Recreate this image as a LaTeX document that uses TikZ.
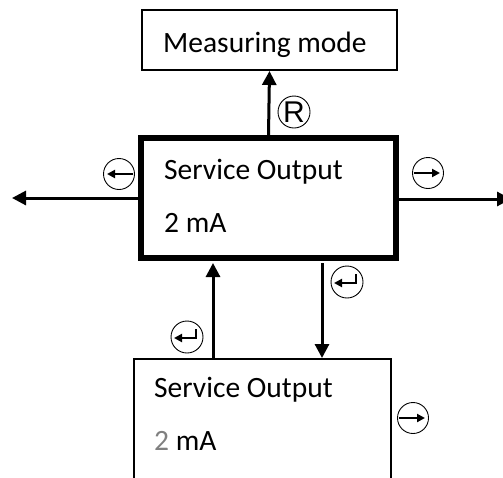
\documentclass[tikz,border=0pt]{standalone}
\usepackage{fontspec}
\setmainfont{Carlito}
\newfontfamily\symfont{Liberation Sans}
\usetikzlibrary{arrows.meta}
\begin{document}
\begin{tikzpicture}[x=1pt,y=-1pt,
  txt/.style={anchor=base west,inner sep=0pt,font=\fontsize{29.5}{35}\selectfont},
  conn/.style={line width=3pt,-{Triangle[length=14pt,width=14pt]}},
  sym/.style={circle,draw,line width=0.9pt,minimum size=31pt,inner sep=0pt},
  glyph/.style={line width=2pt,-{Triangle[length=8pt,width=8pt]}},
  thinbox/.style={draw,line width=2pt,inner sep=0pt},
  thickbox/.style={draw,line width=6pt,inner sep=0pt}
]
\useasboundingbox (0,0) rectangle (503,477);
% boxes
\node[thinbox,minimum width=255pt,minimum height=60pt] (meas) at (269.5,40) {};
\node[txt] (meastxt) at (163,52) {Measuring mode};
\node[thickbox,minimum width=255pt,minimum height=120pt] (main) at (268.5,198) {};
\node[txt] (maint1) at (164,179) {Service Output};
\node[txt] (maint2) at (164,232) {2 mA};
\node[thinbox,minimum width=257pt,minimum height=141pt] (bot) at (262.5,429.5) {};
\node[txt] (bott1) at (154,397) {Service Output};
\node[txt] (bott2) at (154,450) {\textcolor{black!50}{2} mA};
% free ends
\coordinate (lend) at (12,198);
\coordinate (rend) at (511,199);
\coordinate (ux) at (213,0);
\coordinate (dx) at (322,0);
% connectors
\draw[conn] (main.north) -- (meas.south);
\draw[conn] (main.west) -- (lend);
\draw[conn] (main.east |- rend) -- (rend);
\draw[conn,shorten >=2pt] (bot.north -| ux) -- (main.south -| ux);
\draw[conn,shorten <=2pt] (main.south -| dx) -- (bot.north -| dx);
% symbols
\node[sym,minimum size=32pt] (symR) at (294,112) {\symfont\fontsize{30}{30}\selectfont R};
\node[sym] (symL) at (119,174) {};
\draw[glyph] ([xshift=14pt]symL.center) -- ([xshift=-12pt]symL.center);
\node[sym] (symRt) at (428,173) {};
\draw[glyph] ([xshift=-14pt]symRt.center) -- ([xshift=12pt]symRt.center);
\node[sym,minimum size=32pt] (symE1) at (347,282) {};
\draw[glyph] ([shift={(9pt,8pt)}]symE1.center) -- ([shift={(9pt,-1pt)}]symE1.center) -- ([shift={(-13pt,-1pt)}]symE1.center);
\node[sym,minimum size=32pt] (symE2) at (187,337) {};
\draw[glyph] ([shift={(9pt,8pt)}]symE2.center) -- ([shift={(9pt,-1pt)}]symE2.center) -- ([shift={(-13pt,-1pt)}]symE2.center);
\node[sym] (symB) at (413,418) {};
\draw[glyph] ([xshift=-14pt]symB.center) -- ([xshift=12pt]symB.center);
\end{tikzpicture}
\end{document}
